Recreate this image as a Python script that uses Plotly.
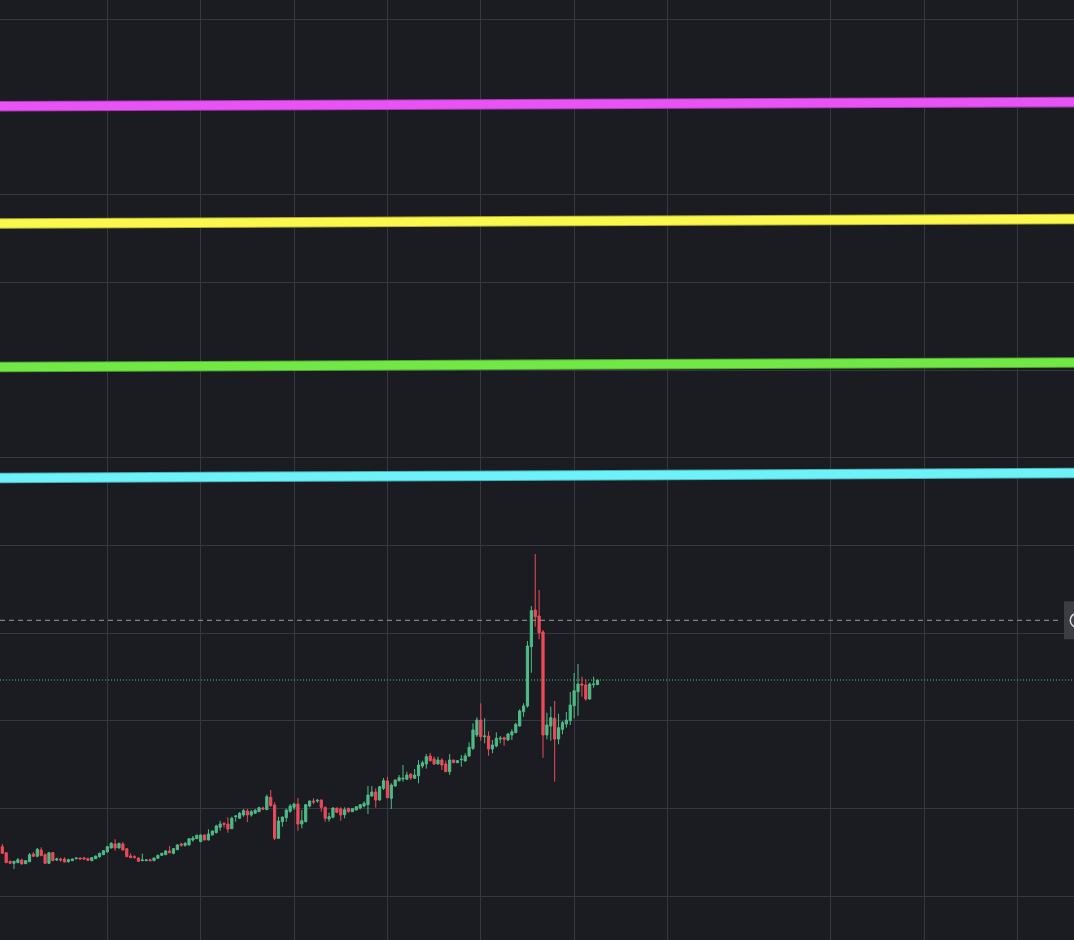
import plotly.graph_objects as go

# ---- candle data (bar index = position on time axis) ----
open_ = [93.3, 87.3, 78.7, 76.7, 77.3, 80, 76.3, 78.3, 86, 83.7,
         90, 85.3, 76.7, 87.3, 80, 81, 81, 78.3, 79.3, 81.3,
         82, 82, 81.3, 79.3, 81.3, 83.3, 85.3, 88, 92, 96,
         92, 96, 91.3, 84, 83.3, 82, 79.3, 79.3, 80.3, 79.3,
         81.7, 84.7, 85.3, 89, 86.7, 90.3, 96, 94.7, 95, 100,
         101.3, 98.3, 105, 100, 105, 107.3, 112.7, 116.7, 116, 111.3,
         123.3, 121.7, 125, 129, 125, 126.7, 128.3, 132, 130.3, 142.7,
         135, 101.7, 118.3, 122.3, 128.7, 132.7, 136, 116, 118.3, 134,
         139, 139, 140, 132.7, 121, 122.7, 132, 131, 125.3, 131.7,
         128.3, 130, 132, 134, 135.3, 144, 148, 140, 151.7, 159,
         141.7, 154, 159.3, 161, 160.7, 165.7, 161.7, 164.3, 174, 176,
         184, 181, 176, 180, 176, 168.3, 180, 177.3, 180.3, 179,
         184, 191.7, 205, 220, 203.3, 204, 191, 194, 201, 202.3,
         200, 205, 207.3, 214, 228.3, 234, 293.3, 330, 324, 308,
         205, 214, 221.7, 201, 210.7, 216, 219.3, 234.3, 248.3, 256,
         255, 241, 255.3, 255.3]
high = [96, 87.5, 79.3, 79, 82, 81.3, 80, 87, 88, 92,
        92.7, 86.7, 88, 88, 82.3, 82.3, 82.7, 81.3, 81.5, 82.2,
        82.2, 83, 82.3, 82.5, 84.3, 87.3, 89.7, 94.3, 97.7, 100.7,
        97, 98, 91.7, 86.7, 84.7, 82.3, 86.3, 81, 81.3, 82.3,
        85.3, 87.3, 90, 94, 92, 96, 97.3, 98, 101.7, 104,
        105.3, 105.5, 105.5, 110.7, 109.3, 115.3, 119.3, 117.7, 122.7, 123.3,
        125, 128, 131, 131, 130, 131, 133.3, 133.3, 145.3, 150,
        137.7, 123.3, 123.3, 131.3, 136, 137.3, 142, 130, 136, 139.5,
        141.7, 141, 140.3, 133.3, 127.3, 132.7, 132, 132.7, 132.7, 132.3,
        131.7, 133.7, 136, 138.7, 154, 154, 151.7, 154, 162, 163.3,
        156.7, 160.7, 165, 175, 168.3, 167, 171, 180, 179.3, 186,
        187, 183.3, 183.3, 181.7, 179.3, 186, 180.3, 180, 185, 186.7,
        197.7, 216.7, 222.7, 236.7, 221.7, 208.7, 200, 207.7, 204, 203.3,
        207.3, 210.7, 217.3, 230.7, 236.7, 299, 334, 386, 350, 310,
        227.3, 233.3, 239, 226.3, 219, 228, 248, 267, 276, 263.3,
        260.7, 257.3, 263.3, 260.3]
low = [86.5, 77, 76.5, 71, 77, 75.8, 76, 78, 83.5, 82.7,
       84, 76, 76, 79, 79, 78.3, 77.7, 77.3, 79, 80.7,
       80.8, 80.8, 79.5, 79, 81, 82.3, 85, 87.7, 91.7, 89.3,
       91.7, 89.7, 83, 82, 81.3, 78.3, 79, 79, 79, 79,
       81.5, 84.3, 85, 86.7, 85.7, 90, 93.3, 93.3, 94.7, 98.3,
       101, 98, 99.7, 99.7, 104.7, 106.7, 109.3, 112.3, 107.3, 111,
       118.3, 121.3, 123.3, 118, 123.3, 126.3, 128, 130, 130, 133.3,
       100, 101, 113.3, 118.3, 127.3, 130, 109.3, 111.7, 117.7, 132.7,
       136, 137.3, 128.3, 118.3, 118.3, 121.7, 126.7, 119.3, 121.7, 127.3,
       128, 129.7, 130.7, 132.7, 126, 143.3, 132.3, 139.3, 150, 141.7,
       131, 153.3, 158.3, 158.3, 160.3, 160, 161.3, 156.7, 171.7, 171.3,
       178.3, 175, 175.7, 170, 168.3, 165, 177, 177, 173.3, 178.7,
       183.3, 190, 203, 199.3, 196.7, 184.3, 186.7, 192.7, 196.7, 194.3,
       199.3, 200, 207, 213.3, 223.3, 232.3, 267.3, 313.3, 300.7, 182.3,
       200.7, 199.3, 158.3, 195.7, 205.7, 212.3, 215, 221.7, 224.3, 243.3,
       239.3, 240.3, 252.3, 255]
close = [86.7, 77.3, 76.7, 78.7, 80.3, 76, 79.3, 85.3, 83.7, 90.7,
         84.3, 76.7, 87.3, 79.3, 81, 80, 78, 80.3, 81, 82,
         81, 81, 79.7, 82.3, 84, 86.7, 89.3, 93.3, 96.7, 92,
         96.7, 90, 83.3, 82.3, 82.7, 78.7, 80, 80, 79.3, 82,
         84.7, 86.7, 89, 87.3, 91.3, 95, 94.7, 96.7, 101.3, 102,
         104.7, 105, 100, 106, 109, 114, 116, 115.7, 111, 121.7,
         124, 126.7, 129.3, 125, 128.3, 129.7, 132.3, 131, 143.3, 134.3,
         101.7, 119, 123, 130, 134, 136, 116, 119.3, 135.3, 139,
         138, 139.7, 132.7, 121.7, 123.3, 132, 127.7, 125, 130.3, 128.3,
         131.3, 133.3, 135.3, 136.7, 145, 148, 140, 153.3, 159.3, 142.3,
         155, 160, 162.3, 161.7, 165, 162.3, 165, 175, 177.3, 183.3,
         179.3, 176, 180, 175, 168.3, 180, 177.3, 179.3, 180.7, 184,
         192.7, 210, 220, 203.3, 204, 191, 195, 201.7, 201.7, 200.7,
         206, 208.3, 215.7, 229, 234, 294, 329.3, 323.3, 307.3, 205,
         215, 222.3, 201, 212.3, 217.3, 220, 235, 249.3, 256, 255,
         241, 256, 256, 260]
bars = list(range(len(close)))

# ---- drawn levels (two end points each, in bar / price units) ----
level_bars = [-1, 276]
magenta_level = [833.8, 838.1]
yellow_level = [716.5, 721.0]
green_level = [573.0, 577.5]
cyan_level = [462.0, 467.0]

alert_price = 319.7

# ---- grid ----
grid_prices = [920.7, 833.0, 745.3, 657.6, 570.0, 482.3, 394.6, 307.0, 219.3, 131.6, 44.0]
grid_bars = [27, 51, 75, 99, 123, 147, 171, 213, 237, 261]

BG = "#1b1c21"
GRID = "#353840"
UP = "#4fbb87"
DOWN = "#ec4b5b"

fig = go.Figure()

levels = [
    (magenta_level, "#e853f6", "#a83ab4"),
    (yellow_level, "#fbf84d", "#b5b23a"),
    (green_level, "#72e846", "#4fa433"),
    (cyan_level, "#6df2f9", "#4caeb3"),
]
for vals, col, edge in levels:
    fig.add_trace(go.Scatter(x=level_bars, y=vals, mode="lines",
                             line=dict(color=edge, width=10.5),
                             hoverinfo="skip", showlegend=False))
    fig.add_trace(go.Scatter(x=level_bars, y=vals, mode="lines",
                             line=dict(color=col, width=8.5),
                             hoverinfo="skip", showlegend=False))

fig.add_trace(go.Candlestick(
    x=bars, open=open_, high=high, low=low, close=close,
    increasing=dict(line=dict(color=UP, width=1), fillcolor=UP),
    decreasing=dict(line=dict(color=DOWN, width=1), fillcolor=DOWN),
    whiskerwidth=0, showlegend=False,
))

# last price line (dotted) and alert line (dashed)
fig.add_shape(type="line", xref="paper", yref="y", x0=0, x1=1,
              y0=close[-1], y1=close[-1],
              line=dict(color=UP, width=1, dash="1px,2px"))
fig.add_shape(type="line", xref="paper", yref="y", x0=0, x1=0.9888,
              y0=alert_price, y1=alert_price,
              line=dict(color="#9a9ca4", width=1, dash="5px,4px"))
# alert label on right edge
fig.add_shape(type="rect", xref="paper", yref="y", x0=0.9907, x1=1.01,
              y0=alert_price - 19, y1=alert_price + 19,
              fillcolor="#3c3d42", line=dict(width=0), layer="above")
fig.add_shape(type="circle", xref="paper", yref="y", x0=0.9965, x1=1.0095,
              y0=alert_price - 7, y1=alert_price + 7,
              line=dict(color="#d8d9dc", width=1.5), layer="above")

fig.update_layout(
    width=1074, height=940,
    margin=dict(l=0, r=0, t=0, b=0),
    paper_bgcolor=BG, plot_bgcolor=BG,
    boxgap=0.2,
    showlegend=False,
    xaxis=dict(range=[-0.59, 275.5], tickvals=grid_bars, showticklabels=False,
               showgrid=True, gridcolor=GRID, gridwidth=1, zeroline=False,
               rangeslider=dict(visible=False), fixedrange=True),
    yaxis=dict(range=[0, 940], tickvals=grid_prices, showticklabels=False,
               showgrid=True, gridcolor=GRID, gridwidth=1, zeroline=False,
               fixedrange=True),
)

fig.write_html("out.html", config={"displayModeBar": False},
               post_script="document.body.style.margin='0';document.body.style.background='%s';" % BG)
